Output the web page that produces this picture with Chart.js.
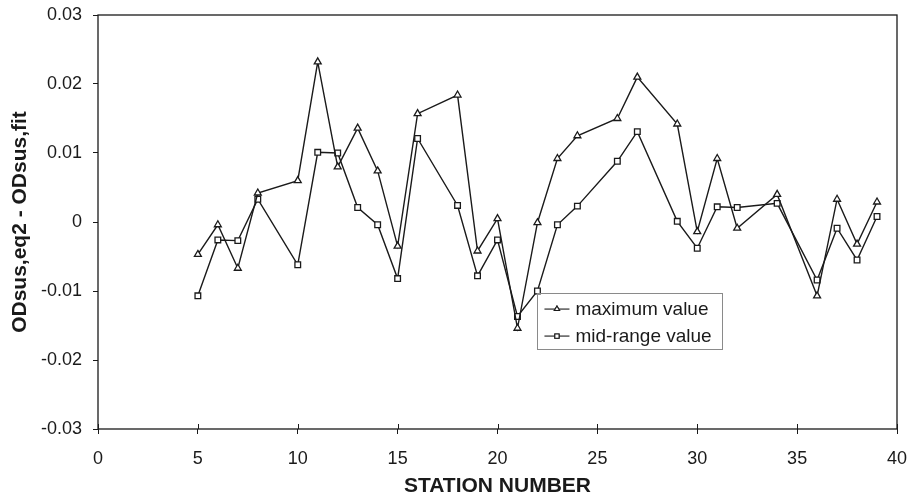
<!DOCTYPE html>
<html>
<head>
<meta charset="utf-8">
<script src="https://cdn.jsdelivr.net/npm/chart.js@4/dist/chart.umd.min.js"></script>
<style>
  html, body { margin: 0; padding: 0; background: #fff; }
  #wrap { width: 910px; height: 499px; }
</style>
</head>
<body>
<div id="wrap"><canvas id="chart" width="910" height="499"></canvas></div>
<script>
'use strict';

// Station numbers (x axis)
const stations = [5, 6, 7, 8, 10, 11, 12, 13, 14, 15, 16, 18, 19, 20, 21, 22, 23, 24, 26, 27, 29, 30, 31, 32, 34, 36, 37, 38, 39];

// ODsus,eq2 - ODsus,fit using the maximum value
const maximumValue = [-0.0047, -0.0004, -0.0067, 0.0042, 0.006, 0.0232, 0.008, 0.0136, 0.0074, -0.0035, 0.0157, 0.0184, -0.0042, 0.0005, -0.0154, -0.0001, 0.0092, 0.0125, 0.015, 0.021, 0.0142, -0.0014, 0.0092, -0.0009, 0.004, -0.0107, 0.0033, -0.0032, 0.0029];

// ODsus,eq2 - ODsus,fit using the mid-range value
const midRangeValue = [-0.0107, -0.0026, -0.0027, 0.0033, -0.0062, 0.0101, 0.01, 0.0021, -0.0004, -0.0082, 0.0121, 0.0024, -0.0078, -0.0026, -0.0137, -0.01, -0.0004, 0.0023, 0.0088, 0.0131, 0.0001, -0.0038, 0.0022, 0.0021, 0.0027, -0.0084, -0.0009, -0.0055, 0.0008];

// Tick values
const xTicks = [0, 5, 10, 15, 20, 25, 30, 35, 40];
const yTicks = [-0.03, -0.02, -0.01, 0, 0.01, 0.02, 0.03];

// Legend labels
const seriesLabels = ['maximum value', 'mid-range value'];

const INK = '#1a1a1a';
const FONT = "'Liberation Sans', Arial, sans-serif";

const toPoints = (values) => values.map((v, i) => ({ x: stations[i], y: v }));

// Box around the plot + inner half of the x ticks
const frame = {
  id: 'frame',
  beforeDatasetsDraw(chart) {
    const { ctx, chartArea: a, scales } = chart;
    ctx.save();
    ctx.strokeStyle = INK;
    ctx.lineWidth = 1.3;
    ctx.strokeRect(a.left, a.top, a.right - a.left, a.bottom - a.top);
    ctx.lineWidth = 1;
    xTicks.forEach((t) => {
      const px = Math.round(scales.x.getPixelForValue(t)) + 0.5;
      ctx.beginPath();
      ctx.moveTo(px, a.bottom);
      ctx.lineTo(px, a.bottom - 5);
      ctx.stroke();
    });
    ctx.restore();
  },
};

// Legend box inside the plot
const boxLegend = {
  id: 'boxLegend',
  afterDatasetsDraw(chart) {
    const { ctx, scales } = chart;
    // anchored on data coordinates
    const left = scales.x.getPixelForValue(22.0);
    const top = scales.y.getPixelForValue(-0.0103);
    const w = 185, h = 56;
    ctx.save();
    ctx.strokeStyle = '#8a8a8a';
    ctx.lineWidth = 1;
    ctx.strokeRect(Math.round(left) + 0.5, Math.round(top) + 0.5, w, h);
    const styles = ['triangle', 'rect'];
    seriesLabels.forEach((label, i) => {
      const cy = top + 16 + i * 27;
      ctx.strokeStyle = INK;
      ctx.lineWidth = 1.1;
      ctx.beginPath();
      ctx.moveTo(left + 7, cy);
      ctx.lineTo(left + 32, cy);
      ctx.stroke();
      ctx.fillStyle = '#fff';
      Chart.helpers.drawPoint(ctx, { pointStyle: styles[i], radius: 3, borderWidth: 1 }, left + 19.5, cy);
      ctx.fill();
      ctx.stroke();
      ctx.fillStyle = INK;
      ctx.font = '19px ' + FONT;
      ctx.textBaseline = 'middle';
      ctx.fillText(label, left + 38, cy + 1);
    });
    ctx.restore();
  },
};

const configuration = {
  type: 'line',
  data: {
    datasets: [
      {
        label: seriesLabels[0],
        data: toPoints(maximumValue),
        borderColor: INK,
        borderWidth: 1.4,
        pointStyle: 'triangle',
        pointRadius: 4,
        pointBorderWidth: 1.3,
        pointBackgroundColor: '#fff',
        pointBorderColor: INK,
        tension: 0,
      },
      {
        label: seriesLabels[1],
        data: toPoints(midRangeValue),
        borderColor: INK,
        borderWidth: 1.4,
        pointStyle: 'rect',
        pointRadius: 4,
        pointBorderWidth: 1.3,
        pointBackgroundColor: '#fff',
        pointBorderColor: INK,
        tension: 0,
      },
    ],
  },
  options: {
    responsive: false,
    animation: false,
    layout: {
      padding: { left: 0, top: 15, right: 13, bottom: 0 },
    },
    plugins: {
      legend: { display: false },
      tooltip: { enabled: false },
    },
    scales: {
      x: {
        type: 'linear',
        min: 0,
        max: 40,
        afterBuildTicks: (scale) => { scale.ticks = xTicks.map((v) => ({ value: v })); },
        afterFit: (scale) => {
          scale.height = 70;
          scale.paddingLeft = 0;
          scale.paddingRight = 0;
        },
        border: { display: false },
        grid: { drawOnChartArea: false, drawTicks: true, tickLength: 5, color: INK },
        ticks: {
          color: INK,
          padding: 14,
          maxRotation: 0,
          font: { family: FONT, size: 18 },
        },
        title: {
          display: true,
          text: 'STATION NUMBER',
          color: INK,
          padding: { top: 0, bottom: 0 },
          font: { family: FONT, size: 21, weight: 'bold' },
        },
      },
      y: {
        min: -0.03,
        max: 0.03,
        afterBuildTicks: (scale) => { scale.ticks = yTicks.map((v) => ({ value: v })); },
        afterFit: (scale) => {
          scale.width = 98;
          scale.paddingTop = 0;
          scale.paddingBottom = 0;
        },
        border: { display: false },
        grid: { drawOnChartArea: false, drawTicks: true, tickLength: 5, color: INK },
        ticks: {
          color: INK,
          padding: 11,
          callback: (v) => String(v),
          font: { family: FONT, size: 18 },
        },
        title: {
          display: true,
          text: 'ODsus,eq2 - ODsus,fit',
          color: INK,
          padding: { top: 8, bottom: 0 },
          font: { family: FONT, size: 21, weight: 'bold' },
        },
      },
    },
  },
  plugins: [frame, boxLegend],
};

new Chart(document.getElementById('chart').getContext('2d'), configuration);
</script>
</body>
</html>
